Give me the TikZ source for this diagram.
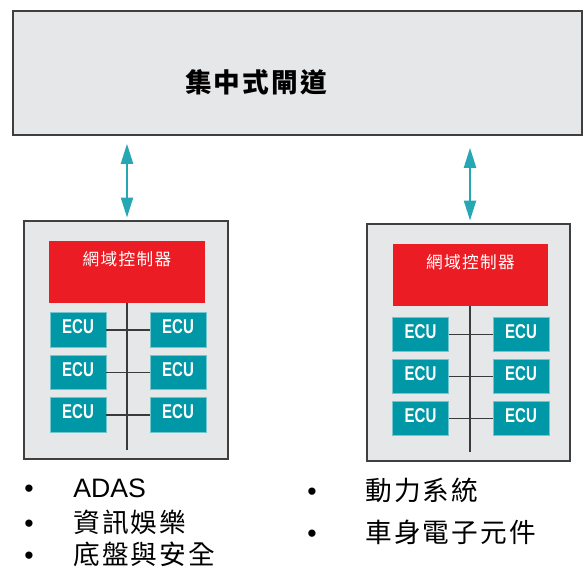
\documentclass[tikz,border=0pt]{standalone}
\usepackage{fontspec}
\setmainfont{Liberation Sans}
\newfontfamily\cjk[LetterSpace=8]{Noto Sans CJK TC}
\usetikzlibrary{arrows.meta,positioning}
\definecolor{boxgray}{HTML}{E6E7E9}
\definecolor{edgegray}{HTML}{3F3F3F}
\definecolor{ctlred}{HTML}{EC1C24}
\definecolor{ecuteal}{HTML}{0097A6}
\definecolor{linkteal}{HTML}{27A7B3}
\definecolor{busgray}{HTML}{3A3A3A}
\tikzset{
  gwbox/.style={draw=edgegray, line width=1.2pt, fill=boxgray},
  dombox/.style={draw=edgegray, line width=1.2pt, fill=boxgray},
  ctlbox/.style={fill=ctlred, minimum width=117pt, minimum height=46.5pt, inner sep=0pt},
  ctltext/.style={anchor=north, inner sep=0pt, text=white, yshift=-8pt,
    font=\cjk\fontsize{12.5}{14}\selectfont},
  ecubox/.style={fill=ecuteal, draw=ecuteal!55!white, line width=0.6pt,
    minimum width=42pt, minimum height=26pt, inner sep=0pt, text=white,
    text depth=5pt, font=\bfseries\fontsize{15}{17}\selectfont},
  bus/.style={draw=busgray, line width=1.1pt},
  link/.style={draw=linkteal, line width=1.6pt,
    {Triangle[length=15pt,width=9pt]}-{Triangle[length=15pt,width=9pt]}},
  item/.style={anchor=west, inner sep=0pt, font=\fontsize{20}{23}\selectfont},
}
\newcommand{\ecu}{\scalebox{0.75}[1]{ECU}}
\begin{document}
\begin{tikzpicture}[x=0.75pt,y=-0.75pt]
  \useasboundingbox (0,0) rectangle (584,570);

  % central gateway
  \node[gwbox, minimum width=426.75pt, minimum height=93pt] (gw) at (297.5,73) {};
  \node[font=\cjk\bfseries\fontsize{20}{24}\selectfont] (gwtxt) at (256,82) {集中式閘道};

  % domain boxes
  \node[dombox, minimum width=153pt, minimum height=178.5pt] (domL) at (126,340) {};
  \node[dombox, minimum width=152.25pt, minimum height=177.75pt] (domR) at (468.5,342.5) {};

  \draw[link, shorten <=6pt, shorten >=2pt] (gw.south -| 127,0) -- (domL.north -| 127,0);
  \draw[link, shorten <=9pt, shorten >=2pt] (gw.south -| 470,0) -- (domR.north -| 470,0);

  % domain controllers
  \node[ctlbox, label={[ctltext]north:網域控制器}] (ctlL) at (127,272) {};
  \node[ctlbox, minimum width=116.25pt, label={[ctltext]north:網域控制器}] (ctlR) at (470.5,275) {};

  \coordinate (busL) at (127,450);
  \coordinate (busR) at (470,452);
  \draw[bus] (ctlL.south) -- (busL);
  \draw[bus] (ctlR.south -| busR) -- (busR);

  % ECUs
  \foreach \r/\ya/\yb in {1/330/334.5, 2/372.5/376.5, 3/415/418.5} {
    \node[ecubox] (ecuLa\r) at (78,\ya) {\ecu};
    \node[ecubox] (ecuLb\r) at (178,\ya) {\ecu};
    \node[ecubox] (ecuRa\r) at (420.5,\yb) {\ecu};
    \node[ecubox] (ecuRb\r) at (521,\yb) {\ecu};
    \draw[bus] (ecuLa\r.east) -- (ecuLb\r.west);
    \draw[bus] (ecuRa\r.east) -- (ecuRb\r.west);
  }

  % lists
  \node[item] (adas) at (24,488) {\makebox[36.75pt][l]{\textbullet}ADAS};
  \node[item] (info) at (24,522) {\makebox[36.75pt][l]{\textbullet}{\cjk 資訊娛樂}};
  \node[item] (chas) at (24,554) {\makebox[36.75pt][l]{\textbullet}{\cjk 底盤與安全}};
  \node[item] (powr) at (307,490) {\makebox[43.5pt][l]{\textbullet}{\cjk 動力系統}};
  \node[item] (body) at (307,532) {\makebox[43.5pt][l]{\textbullet}{\cjk 車身電子元件}};
\end{tikzpicture}
\end{document}
